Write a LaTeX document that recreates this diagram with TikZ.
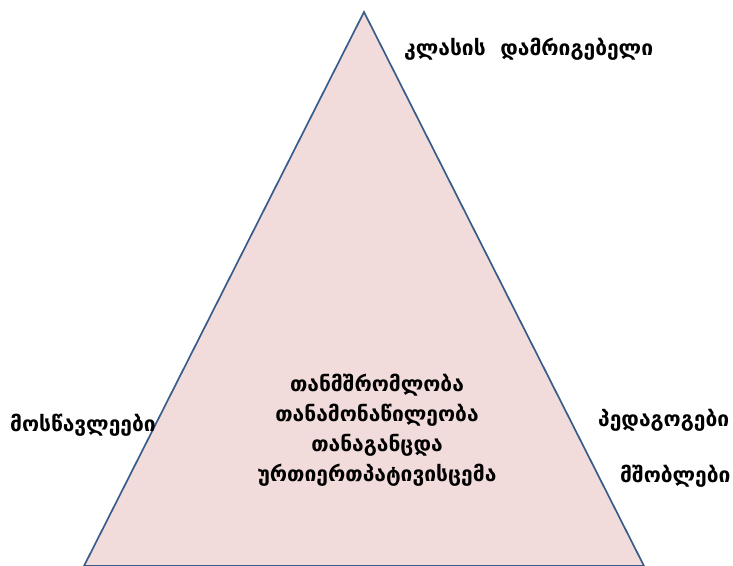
\documentclass[tikz,border=0pt]{standalone}
\usepackage{fontspec}
\newfontfamily\geofont[Script=Georgian]{DejaVu Sans}
\definecolor{trifill}{HTML}{F2DCDB}
\definecolor{triline}{HTML}{385D8A}
\usetikzlibrary{positioning}

\begin{document}
\begin{tikzpicture}[
  x=1pt, y=-1pt,
  label/.style={
    inner sep=0pt, anchor=west, font=\geofont\bfseries\fontsize{21}{30}\selectfont
  },
  core/.style={
    label, anchor=center, align=center
  }
]
\useasboundingbox (0,0) rectangle (733,565);

% triangle
\coordinate (apex) at (364,12);
\coordinate (bl) at (84,566);
\coordinate (br) at (644,566);
\filldraw[fill=trifill, draw=triline, line width=1.7pt, line join=miter]
  (bl) -- (apex) -- (br) -- cycle;

% labels
\node[label] (teacher) at (404,49) {კლასის~~დამრიგებელი};
\node[label] (pupils) at (10,425) {მოსწავლეები};
\node[label] (staff) at (598,420) {პედაგოგები};
\node[label] (parents) at (620,476) {მშობლები};
\node[core] (values) at (377,430)
  {თანმშრომლობა\\თანამონაწილეობა\\თანაგანცდა\\ურთიერთპატივისცემა};

\end{tikzpicture}
\end{document}
